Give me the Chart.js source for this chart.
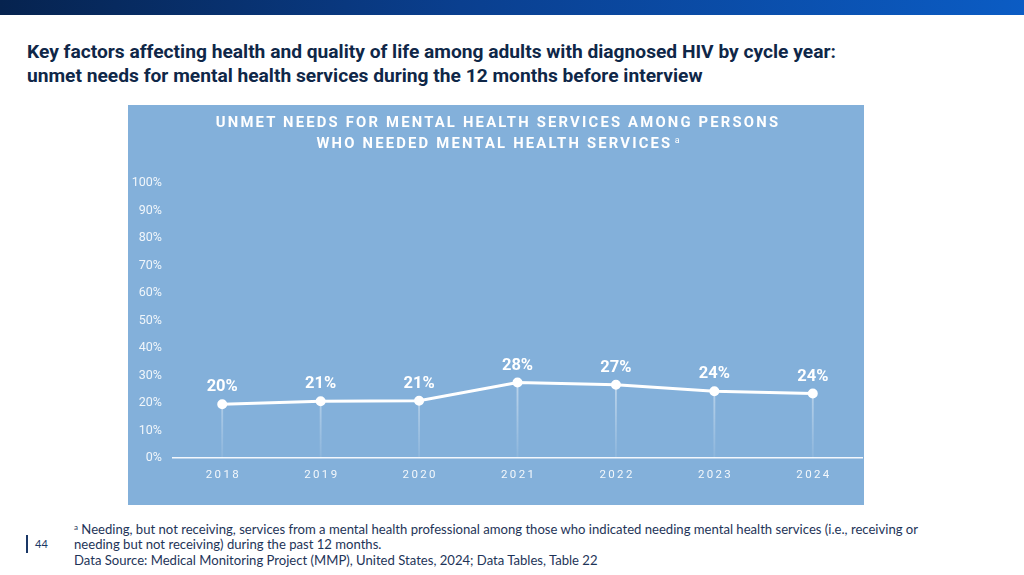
<!DOCTYPE html>
<html>
<head>
<meta charset="utf-8">
<script src="https://cdn.jsdelivr.net/npm/chart.js@4"></script>
<style>
    html, body { margin: 0; padding: 0; }
    body { width: 1024px; height: 575px; position: relative; background: #ffffff; overflow: hidden; font-family: Roboto, "Noto Sans", sans-serif; }
    #topBar { position: absolute; left: 0; top: 0; width: 1024px; height: 15px; background: linear-gradient(90deg, #06234f 0%, #0a3f8f 45%, #0b5cc4 100%); }
    #title { position: absolute; left: 27px; top: 40px; font-size: 19.2px; font-weight: 700; line-height: 24px; color: #0f2748; letter-spacing: 0; }
    #panel { position: absolute; left: 128px; top: 105px; width: 736px; height: 400px; background: #83b0da; overflow: hidden; }
    #panelTitle { position: absolute; left: 0; top: 7px; width: 740px; text-align: center; color: #ffffff; font-size: 14.8px; font-weight: 700; line-height: 21px; letter-spacing: 2.2px; }
    #panelTitle sup { font-size: 9px; font-weight: 400; vertical-align: 5px; letter-spacing: 0; line-height: 0; }
    #chartBox { position: absolute; left: 0; top: 0; width: 741px; height: 400px; }
    #pageBar { position: absolute; left: 26px; top: 535px; width: 2px; height: 18px; background: #1a3766; }
    #pageNum { position: absolute; left: 35px; top: 537px; font-size: 11px; color: #1a3766; font-family: Lato, sans-serif; }
    #notes { position: absolute; left: 74px; top: 522px; font-size: 13.1px; line-height: 15.3px; color: #1e3458; font-family: Lato, sans-serif; }
    #notes sup { font-size: 8px; vertical-align: 4px; line-height: 0; }
</style>
</head>
<body>
<div id="topBar"></div>
<div id="title">Key factors affecting health and quality of life among adults with diagnosed HIV by cycle year:<br>unmet needs for mental health services during the 12 months before interview</div>
<div id="panel">
    <div id="chartBox"><canvas id="unmetChart"></canvas></div>
    <div id="panelTitle">UNMET NEEDS FOR MENTAL HEALTH SERVICES AMONG PERSONS<br>WHO NEEDED MENTAL HEALTH SERVICES<sup> a</sup></div>
</div>
<div id="pageBar"></div>
<div id="pageNum">44</div>
<div id="notes"><sup>a</sup> Needing, but not receiving, services from a mental health professional among those who indicated needing mental health services (i.e., receiving or<br>needing but not receiving) during the past 12 months.<br>Data Source: Medical Monitoring Project (MMP), United States, 2024; Data Tables, Table 22</div>

<script>
const years = ["2018", "2019", "2020", "2021", "2022", "2023", "2024"];
const unmetPct = [19.6, 20.7, 20.9, 27.5, 26.7, 24.3, 23.5];
const unmetLabels = ["20%", "21%", "21%", "28%", "27%", "24%", "24%"];
const yTicks = [0, 10, 20, 30, 40, 50, 60, 70, 80, 90, 100];

// spread the year digits like the slide does
function spaced(str)
{
    return str.split("").join("\u2009");
}

// drop lines fade out toward the axis
function dropGradient(context)
{
    const area = context.chart.chartArea;
    if (!area) return "rgba(255,255,255,0.45)";
    const g = context.chart.ctx.createLinearGradient(0, area.top, 0, area.bottom);
    g.addColorStop(0, "rgba(255,255,255,0.7)");
    g.addColorStop(0.7, "rgba(255,255,255,0.5)");
    g.addColorStop(1, "rgba(255,255,255,0.08)");
    return g;
}

// draws the bold value above every point
const pointLabels = {
    id: "pointLabels",
    afterDatasetsDraw(chart)
    {
        const ctx = chart.ctx;
        const meta = chart.getDatasetMeta(1);
        ctx.save();
        ctx.fillStyle = "#ffffff";
        ctx.font = "700 16.5px Roboto";
        ctx.textAlign = "center";
        ctx.textBaseline = "alphabetic";
        meta.data.forEach((pt, i) =>
        {
            ctx.fillText(unmetLabels[i], pt.x, pt.y - 13);
        });
        ctx.restore();
    }
};

new Chart(document.getElementById("unmetChart"), {
    data: {
        labels: years,
        datasets: [
            {
                // thin drop lines from each point to the axis
                type: "bar",
                data: unmetPct,
                backgroundColor: dropGradient,
                barThickness: 1.2,
                order: 2
            },
            {
                type: "line",
                data: unmetPct,
                borderColor: "#ffffff",
                borderWidth: 3,
                pointBackgroundColor: "#ffffff",
                pointBorderColor: "#ffffff",
                pointRadius: 3.5,
                tension: 0,
                order: 1
            }
        ]
    },
    options: {
        responsive: true,
        maintainAspectRatio: false,
        animation: false,
        layout: { padding: { left: 0, right: 0, top: 78, bottom: 13 } },
        plugins: {
            legend: { display: false },
            tooltip: { enabled: false }
        },
        scales: {
            x: {
                offset: true,
                grid: { display: false, drawTicks: false },
                border: { display: true, color: "rgba(255,255,255,0.9)", width: 1.5 },
                ticks: {
                    color: "rgba(255,255,255,0.9)",
                    font: { family: "Roboto", size: 11.5 },
                    padding: 10,
                    callback: function (val) { return spaced(this.getLabelForValue(val)); }
                }
            },
            y: {
                min: 0,
                max: 100,
                afterBuildTicks: (scale) => { scale.ticks = yTicks.map(v => ({ value: v })); },
                afterFit: (scale) => { scale.width = 45; },
                grid: { display: false, drawTicks: false },
                border: { display: false },
                ticks: {
                    color: "rgba(255,255,255,0.88)",
                    font: { family: "Roboto", size: 12.5 },
                    padding: 11,
                    callback: (val) => val + "%"
                }
            }
        }
    },
    plugins: [pointLabels]
});
</script>
</body>
</html>
